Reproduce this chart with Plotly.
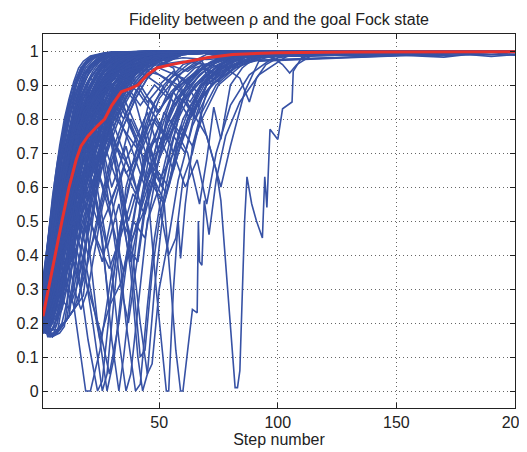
import plotly.graph_objects as go

# ---------------- data ----------------
# fast-converging trajectories (group 1) share a common step grid
FAST_STEPS = [1, 3, 5, 7, 9, 11, 13, 15, 17, 20, 23, 26, 30, 35, 40, 45, 50, 60, 80, 200]
FAST_VALUES = [
    [0.33, 0.44, 0.55, 0.64, 0.72, 0.78, 0.83, 0.90, 0.95, 0.975, 0.985, 0.99, 0.995, 0.997, 0.998, 0.998, 0.999, 0.999, 0.999, 0.999],
    [0.26, 0.36, 0.47, 0.58, 0.68, 0.74, 0.80, 0.85, 0.90, 0.95, 0.97, 0.98, 0.99, 0.993, 0.996, 0.998, 0.998, 0.999, 0.999, 0.999],
    [0.22, 0.33, 0.44, 0.55, 0.64, 0.72, 0.79, 0.84, 0.88, 0.93, 0.96, 0.975, 0.988, 0.993, 0.996, 0.997, 0.998, 0.999, 0.999, 0.999],
    [0.24, 0.31, 0.40, 0.50, 0.60, 0.68, 0.75, 0.81, 0.86, 0.91, 0.94, 0.97, 0.985, 0.99, 0.995, 0.997, 0.998, 0.999, 0.999, 0.999],
    [0.20, 0.27, 0.36, 0.46, 0.56, 0.65, 0.72, 0.78, 0.84, 0.89, 0.93, 0.96, 0.98, 0.99, 0.994, 0.996, 0.998, 0.999, 0.999, 0.999],
    [0.21, 0.25, 0.32, 0.42, 0.52, 0.60, 0.68, 0.75, 0.81, 0.87, 0.92, 0.95, 0.975, 0.988, 0.993, 0.996, 0.998, 0.999, 0.999, 0.999],
    [0.19, 0.22, 0.28, 0.36, 0.45, 0.55, 0.63, 0.70, 0.77, 0.84, 0.89, 0.93, 0.96, 0.98, 0.99, 0.995, 0.997, 0.999, 0.999, 0.999],
    [0.18, 0.20, 0.24, 0.31, 0.40, 0.50, 0.58, 0.66, 0.73, 0.81, 0.87, 0.91, 0.95, 0.975, 0.988, 0.994, 0.997, 0.998, 0.999, 0.999],
    [0.20, 0.18, 0.21, 0.27, 0.35, 0.44, 0.53, 0.61, 0.69, 0.77, 0.84, 0.89, 0.94, 0.97, 0.985, 0.992, 0.996, 0.998, 0.999, 0.999],
    [0.21, 0.16, 0.16, 0.20, 0.27, 0.36, 0.46, 0.56, 0.65, 0.75, 0.83, 0.88, 0.93, 0.965, 0.98, 0.99, 0.995, 0.998, 0.999, 0.999],
    [0.23, 0.30, 0.42, 0.50, 0.56, 0.66, 0.70, 0.78, 0.82, 0.88, 0.92, 0.95, 0.97, 0.985, 0.992, 0.996, 0.998, 0.999, 0.999, 0.999],
    [0.25, 0.35, 0.45, 0.53, 0.62, 0.66, 0.74, 0.78, 0.85, 0.88, 0.93, 0.95, 0.975, 0.99, 0.995, 0.997, 0.998, 0.999, 0.999, 0.999],
    [0.19, 0.26, 0.30, 0.38, 0.42, 0.50, 0.55, 0.63, 0.68, 0.76, 0.82, 0.87, 0.92, 0.96, 0.98, 0.99, 0.995, 0.998, 0.999, 0.999],
    [0.22, 0.28, 0.34, 0.38, 0.46, 0.50, 0.58, 0.62, 0.70, 0.74, 0.80, 0.86, 0.90, 0.94, 0.97, 0.985, 0.993, 0.997, 0.999, 0.999],
    [0.20, 0.24, 0.27, 0.33, 0.38, 0.45, 0.50, 0.57, 0.62, 0.70, 0.76, 0.82, 0.88, 0.93, 0.96, 0.98, 0.99, 0.996, 0.999, 0.999],
    [0.18, 0.21, 0.25, 0.28, 0.34, 0.38, 0.45, 0.50, 0.58, 0.64, 0.72, 0.78, 0.85, 0.91, 0.95, 0.975, 0.988, 0.996, 0.999, 0.999],
    [0.21, 0.26, 0.30, 0.27, 0.32, 0.40, 0.48, 0.52, 0.60, 0.68, 0.74, 0.80, 0.87, 0.92, 0.96, 0.98, 0.99, 0.997, 0.999, 0.999],
    [0.17, 0.19, 0.22, 0.26, 0.30, 0.35, 0.40, 0.46, 0.52, 0.60, 0.67, 0.74, 0.82, 0.89, 0.94, 0.97, 0.985, 0.995, 0.999, 0.999],
    [0.22, 0.30, 0.38, 0.44, 0.40, 0.36, 0.42, 0.50, 0.58, 0.66, 0.72, 0.80, 0.86, 0.92, 0.95, 0.975, 0.99, 0.997, 0.999, 0.999],
    [0.20, 0.26, 0.33, 0.40, 0.47, 0.42, 0.38, 0.45, 0.55, 0.62, 0.70, 0.78, 0.85, 0.90, 0.95, 0.97, 0.985, 0.995, 0.999, 0.999],
    [0.24, 0.32, 0.40, 0.48, 0.55, 0.60, 0.55, 0.50, 0.58, 0.68, 0.76, 0.83, 0.89, 0.94, 0.97, 0.985, 0.993, 0.997, 0.999, 0.999],
    [0.19, 0.23, 0.28, 0.35, 0.42, 0.48, 0.52, 0.46, 0.42, 0.50, 0.60, 0.70, 0.80, 0.88, 0.93, 0.96, 0.98, 0.995, 0.999, 0.999],
    [0.21, 0.28, 0.36, 0.45, 0.52, 0.58, 0.64, 0.68, 0.62, 0.56, 0.64, 0.74, 0.84, 0.90, 0.95, 0.975, 0.99, 0.997, 0.999, 0.999],
    [0.23, 0.31, 0.41, 0.52, 0.60, 0.66, 0.72, 0.76, 0.80, 0.74, 0.70, 0.78, 0.86, 0.92, 0.96, 0.98, 0.99, 0.997, 0.999, 0.999],
    [0.18, 0.22, 0.26, 0.32, 0.38, 0.44, 0.40, 0.34, 0.30, 0.38, 0.48, 0.58, 0.70, 0.80, 0.88, 0.93, 0.96, 0.99, 0.998, 0.999],
    [0.20, 0.25, 0.30, 0.36, 0.42, 0.46, 0.50, 0.54, 0.48, 0.40, 0.46, 0.56, 0.68, 0.78, 0.86, 0.92, 0.96, 0.99, 0.998, 0.999],
    [0.22, 0.29, 0.37, 0.46, 0.55, 0.63, 0.70, 0.76, 0.82, 0.86, 0.90, 0.86, 0.82, 0.88, 0.93, 0.96, 0.98, 0.995, 0.999, 0.999],
    [0.25, 0.33, 0.43, 0.53, 0.63, 0.71, 0.78, 0.84, 0.89, 0.93, 0.96, 0.98, 0.99, 0.995, 0.997, 0.998, 0.999, 0.999, 0.999, 0.999],
    [0.28, 0.38, 0.49, 0.60, 0.69, 0.76, 0.83, 0.88, 0.92, 0.95, 0.97, 0.985, 0.993, 0.996, 0.998, 0.998, 0.999, 0.999, 0.999, 0.999],
    [0.32, 0.44, 0.55, 0.65, 0.73, 0.80, 0.86, 0.91, 0.95, 0.97, 0.985, 0.992, 0.996, 0.998, 0.998, 0.999, 0.999, 0.999, 0.999, 0.999],
    [0.17, 0.18, 0.20, 0.23, 0.28, 0.34, 0.40, 0.47, 0.54, 0.63, 0.72, 0.80, 0.87, 0.93, 0.96, 0.98, 0.99, 0.997, 0.999, 0.999],
    [0.19, 0.17, 0.18, 0.22, 0.26, 0.31, 0.36, 0.42, 0.48, 0.56, 0.64, 0.72, 0.80, 0.87, 0.92, 0.955, 0.975, 0.993, 0.999, 0.999],
    [0.21, 0.27, 0.35, 0.43, 0.50, 0.56, 0.62, 0.67, 0.72, 0.78, 0.83, 0.88, 0.92, 0.95, 0.97, 0.985, 0.993, 0.998, 0.999, 0.999],
    [0.20, 0.24, 0.30, 0.37, 0.43, 0.49, 0.54, 0.60, 0.65, 0.72, 0.78, 0.84, 0.89, 0.94, 0.965, 0.98, 0.99, 0.997, 0.999, 0.999],
    [0.23, 0.29, 0.36, 0.40, 0.36, 0.30, 0.26, 0.30, 0.36, 0.46, 0.56, 0.66, 0.76, 0.85, 0.91, 0.95, 0.975, 0.993, 0.999, 0.999],
    [0.18, 0.21, 0.26, 0.33, 0.40, 0.38, 0.34, 0.28, 0.24, 0.30, 0.42, 0.54, 0.66, 0.78, 0.86, 0.92, 0.955, 0.99, 0.998, 0.999],
    [0.22, 0.27, 0.33, 0.40, 0.48, 0.56, 0.64, 0.71, 0.77, 0.83, 0.88, 0.92, 0.95, 0.975, 0.988, 0.994, 0.997, 0.999, 0.999, 0.999],
    [0.19, 0.24, 0.31, 0.39, 0.47, 0.55, 0.62, 0.68, 0.74, 0.80, 0.85, 0.90, 0.94, 0.97, 0.985, 0.992, 0.996, 0.999, 0.999, 0.999],
    [0.27, 0.36, 0.46, 0.56, 0.65, 0.72, 0.78, 0.83, 0.87, 0.91, 0.94, 0.965, 0.98, 0.99, 0.995, 0.997, 0.998, 0.999, 0.999, 0.999],
    [0.21, 0.25, 0.31, 0.38, 0.46, 0.54, 0.60, 0.66, 0.70, 0.76, 0.80, 0.86, 0.90, 0.935, 0.96, 0.98, 0.99, 0.997, 0.999, 0.999],
]

# fast-converging trajectories (group 2) on a second step grid
FAST2_STEPS = [1, 2, 4, 6, 8, 10, 12, 14, 16, 18, 21, 24, 27, 31, 36, 42, 50, 65, 90, 200]
FAST2_VALUES = [
    [0.30, 0.36, 0.50, 0.62, 0.72, 0.80, 0.86, 0.91, 0.95, 0.97, 0.985, 0.99, 0.995, 0.997, 0.998, 0.999, 0.999, 0.999, 0.999, 0.999],
    [0.28, 0.33, 0.45, 0.58, 0.66, 0.76, 0.82, 0.88, 0.92, 0.95, 0.975, 0.985, 0.99, 0.995, 0.997, 0.998, 0.999, 0.999, 0.999, 0.999],
    [0.25, 0.30, 0.40, 0.52, 0.60, 0.70, 0.76, 0.84, 0.88, 0.93, 0.96, 0.98, 0.99, 0.994, 0.997, 0.998, 0.999, 0.999, 0.999, 0.999],
    [0.22, 0.26, 0.36, 0.46, 0.56, 0.64, 0.73, 0.80, 0.86, 0.90, 0.95, 0.97, 0.985, 0.992, 0.996, 0.998, 0.999, 0.999, 0.999, 0.999],
    [0.20, 0.22, 0.30, 0.40, 0.50, 0.58, 0.67, 0.74, 0.80, 0.86, 0.92, 0.95, 0.975, 0.99, 0.995, 0.997, 0.999, 0.999, 0.999, 0.999],
    [0.19, 0.20, 0.26, 0.34, 0.44, 0.52, 0.60, 0.68, 0.76, 0.82, 0.89, 0.93, 0.96, 0.98, 0.99, 0.996, 0.998, 0.999, 0.999, 0.999],
    [0.18, 0.17, 0.20, 0.27, 0.36, 0.45, 0.54, 0.62, 0.70, 0.77, 0.85, 0.90, 0.94, 0.97, 0.985, 0.993, 0.997, 0.999, 0.999, 0.999],
    [0.21, 0.19, 0.17, 0.20, 0.26, 0.34, 0.43, 0.52, 0.60, 0.68, 0.78, 0.85, 0.90, 0.95, 0.975, 0.99, 0.996, 0.999, 0.999, 0.999],
    [0.24, 0.28, 0.38, 0.44, 0.52, 0.60, 0.66, 0.72, 0.80, 0.84, 0.90, 0.94, 0.965, 0.985, 0.993, 0.997, 0.999, 0.999, 0.999, 0.999],
    [0.23, 0.27, 0.33, 0.42, 0.48, 0.54, 0.62, 0.70, 0.74, 0.80, 0.86, 0.91, 0.95, 0.975, 0.99, 0.995, 0.998, 0.999, 0.999, 0.999],
    [0.20, 0.24, 0.30, 0.36, 0.44, 0.50, 0.56, 0.62, 0.68, 0.74, 0.82, 0.88, 0.92, 0.96, 0.98, 0.99, 0.996, 0.999, 0.999, 0.999],
    [0.19, 0.22, 0.27, 0.32, 0.38, 0.44, 0.50, 0.56, 0.62, 0.68, 0.76, 0.83, 0.88, 0.93, 0.965, 0.985, 0.993, 0.998, 0.999, 0.999],
    [0.22, 0.25, 0.32, 0.38, 0.35, 0.42, 0.50, 0.58, 0.66, 0.72, 0.80, 0.86, 0.91, 0.95, 0.975, 0.99, 0.996, 0.999, 0.999, 0.999],
    [0.20, 0.23, 0.30, 0.38, 0.45, 0.40, 0.46, 0.55, 0.62, 0.70, 0.78, 0.84, 0.90, 0.94, 0.97, 0.985, 0.995, 0.999, 0.999, 0.999],
    [0.26, 0.31, 0.42, 0.52, 0.60, 0.66, 0.62, 0.68, 0.76, 0.83, 0.89, 0.93, 0.96, 0.98, 0.99, 0.996, 0.998, 0.999, 0.999, 0.999],
    [0.21, 0.24, 0.31, 0.40, 0.48, 0.55, 0.60, 0.56, 0.62, 0.72, 0.80, 0.87, 0.92, 0.96, 0.98, 0.99, 0.996, 0.999, 0.999, 0.999],
    [0.18, 0.20, 0.24, 0.30, 0.36, 0.42, 0.48, 0.54, 0.50, 0.46, 0.56, 0.66, 0.76, 0.85, 0.92, 0.96, 0.985, 0.998, 0.999, 0.999],
    [0.20, 0.22, 0.28, 0.35, 0.42, 0.48, 0.44, 0.38, 0.34, 0.40, 0.50, 0.62, 0.72, 0.82, 0.90, 0.95, 0.98, 0.997, 0.999, 0.999],
    [0.23, 0.28, 0.37, 0.47, 0.56, 0.64, 0.71, 0.77, 0.74, 0.70, 0.78, 0.85, 0.90, 0.95, 0.975, 0.99, 0.996, 0.999, 0.999, 0.999],
    [0.22, 0.26, 0.35, 0.45, 0.54, 0.62, 0.70, 0.76, 0.82, 0.86, 0.82, 0.86, 0.92, 0.96, 0.98, 0.99, 0.996, 0.999, 0.999, 0.999],
    [0.17, 0.18, 0.21, 0.25, 0.30, 0.36, 0.42, 0.49, 0.56, 0.63, 0.72, 0.80, 0.87, 0.93, 0.965, 0.985, 0.995, 0.999, 0.999, 0.999],
    [0.19, 0.18, 0.19, 0.23, 0.28, 0.33, 0.39, 0.45, 0.52, 0.58, 0.67, 0.75, 0.82, 0.89, 0.94, 0.97, 0.99, 0.998, 0.999, 0.999],
    [0.21, 0.23, 0.28, 0.33, 0.30, 0.26, 0.24, 0.30, 0.38, 0.46, 0.56, 0.66, 0.75, 0.84, 0.91, 0.95, 0.98, 0.997, 0.999, 0.999],
    [0.24, 0.29, 0.39, 0.49, 0.58, 0.66, 0.73, 0.79, 0.84, 0.88, 0.92, 0.90, 0.88, 0.93, 0.96, 0.98, 0.993, 0.999, 0.999, 0.999],
    [0.27, 0.33, 0.45, 0.56, 0.65, 0.73, 0.80, 0.85, 0.89, 0.92, 0.955, 0.975, 0.985, 0.993, 0.997, 0.998, 0.999, 0.999, 0.999, 0.999],
    [0.29, 0.35, 0.48, 0.60, 0.70, 0.78, 0.84, 0.89, 0.93, 0.955, 0.975, 0.988, 0.994, 0.997, 0.998, 0.999, 0.999, 0.999, 0.999, 0.999],
    [0.20, 0.25, 0.33, 0.41, 0.49, 0.57, 0.64, 0.70, 0.76, 0.81, 0.87, 0.92, 0.95, 0.975, 0.988, 0.995, 0.998, 0.999, 0.999, 0.999],
    [0.22, 0.27, 0.34, 0.42, 0.50, 0.58, 0.65, 0.72, 0.78, 0.83, 0.89, 0.93, 0.96, 0.98, 0.99, 0.996, 0.998, 0.999, 0.999, 0.999],
    [0.18, 0.21, 0.26, 0.33, 0.40, 0.47, 0.54, 0.61, 0.67, 0.73, 0.80, 0.86, 0.91, 0.95, 0.975, 0.99, 0.996, 0.999, 0.999, 0.999],
    [0.25, 0.30, 0.38, 0.47, 0.55, 0.62, 0.68, 0.74, 0.79, 0.84, 0.89, 0.93, 0.96, 0.98, 0.99, 0.996, 0.998, 0.999, 0.999, 0.999],
]

# fast-converging trajectories (group 3) on a third step grid
FAST3_STEPS = [1, 2, 3, 5, 7, 9, 11, 13, 15, 17, 19, 22, 25, 28, 32, 38, 45, 55, 75, 200]
FAST3_VALUES = [
    [0.31, 0.38, 0.45, 0.57, 0.67, 0.75, 0.82, 0.88, 0.92, 0.95, 0.97, 0.985, 0.99, 0.995, 0.997, 0.998, 0.999, 0.999, 0.999, 0.999],
    [0.27, 0.32, 0.38, 0.50, 0.61, 0.70, 0.77, 0.83, 0.88, 0.92, 0.95, 0.975, 0.988, 0.994, 0.997, 0.998, 0.999, 0.999, 0.999, 0.999],
    [0.24, 0.28, 0.33, 0.44, 0.55, 0.64, 0.72, 0.79, 0.85, 0.89, 0.93, 0.96, 0.98, 0.99, 0.995, 0.998, 0.999, 0.999, 0.999, 0.999],
    [0.22, 0.25, 0.29, 0.38, 0.48, 0.58, 0.66, 0.74, 0.80, 0.86, 0.90, 0.94, 0.97, 0.985, 0.993, 0.997, 0.999, 0.999, 0.999, 0.999],
    [0.20, 0.22, 0.25, 0.33, 0.42, 0.51, 0.60, 0.68, 0.75, 0.81, 0.86, 0.91, 0.95, 0.97, 0.985, 0.995, 0.998, 0.999, 0.999, 0.999],
    [0.19, 0.20, 0.22, 0.28, 0.36, 0.45, 0.54, 0.62, 0.70, 0.76, 0.82, 0.88, 0.92, 0.95, 0.975, 0.99, 0.996, 0.999, 0.999, 0.999],
    [0.21, 0.19, 0.19, 0.23, 0.30, 0.38, 0.47, 0.56, 0.64, 0.71, 0.78, 0.85, 0.90, 0.94, 0.97, 0.985, 0.995, 0.999, 0.999, 0.999],
    [0.18, 0.17, 0.17, 0.20, 0.25, 0.32, 0.40, 0.49, 0.57, 0.65, 0.72, 0.80, 0.86, 0.91, 0.95, 0.98, 0.993, 0.998, 0.999, 0.999],
    [0.23, 0.27, 0.31, 0.40, 0.47, 0.55, 0.61, 0.69, 0.74, 0.80, 0.84, 0.89, 0.93, 0.96, 0.98, 0.992, 0.997, 0.999, 0.999, 0.999],
    [0.25, 0.29, 0.35, 0.46, 0.56, 0.62, 0.70, 0.75, 0.82, 0.86, 0.90, 0.93, 0.96, 0.98, 0.99, 0.996, 0.998, 0.999, 0.999, 0.999],
    [0.20, 0.23, 0.27, 0.34, 0.40, 0.47, 0.53, 0.60, 0.66, 0.72, 0.78, 0.84, 0.89, 0.93, 0.96, 0.98, 0.993, 0.998, 0.999, 0.999],
    [0.22, 0.26, 0.30, 0.37, 0.44, 0.52, 0.59, 0.66, 0.72, 0.78, 0.83, 0.88, 0.92, 0.95, 0.975, 0.99, 0.996, 0.999, 0.999, 0.999],
    [0.19, 0.21, 0.24, 0.30, 0.37, 0.44, 0.51, 0.58, 0.64, 0.70, 0.76, 0.82, 0.87, 0.92, 0.955, 0.98, 0.992, 0.998, 0.999, 0.999],
    [0.26, 0.31, 0.37, 0.48, 0.58, 0.66, 0.73, 0.79, 0.84, 0.88, 0.92, 0.95, 0.97, 0.985, 0.993, 0.997, 0.999, 0.999, 0.999, 0.999],
    [0.21, 0.24, 0.28, 0.36, 0.44, 0.50, 0.47, 0.52, 0.60, 0.68, 0.75, 0.82, 0.88, 0.93, 0.96, 0.985, 0.995, 0.999, 0.999, 0.999],
    [0.23, 0.27, 0.32, 0.41, 0.50, 0.57, 0.63, 0.60, 0.65, 0.73, 0.80, 0.87, 0.92, 0.95, 0.975, 0.99, 0.997, 0.999, 0.999, 0.999],
    [0.18, 0.20, 0.23, 0.29, 0.35, 0.41, 0.47, 0.53, 0.59, 0.66, 0.73, 0.81, 0.87, 0.92, 0.96, 0.985, 0.995, 0.999, 0.999, 0.999],
    [0.24, 0.28, 0.34, 0.44, 0.53, 0.61, 0.68, 0.74, 0.80, 0.85, 0.89, 0.93, 0.96, 0.98, 0.99, 0.996, 0.998, 0.999, 0.999, 0.999],
    [0.20, 0.22, 0.26, 0.32, 0.39, 0.46, 0.52, 0.57, 0.54, 0.58, 0.66, 0.75, 0.83, 0.90, 0.95, 0.98, 0.994, 0.999, 0.999, 0.999],
    [0.29, 0.35, 0.42, 0.54, 0.64, 0.72, 0.79, 0.85, 0.90, 0.93, 0.96, 0.98, 0.99, 0.995, 0.997, 0.998, 0.999, 0.999, 0.999, 0.999],
]

# somewhat slower converging trajectories (group 4) on a fourth step grid
FAST4_STEPS = [1, 4, 8, 12, 16, 20, 24, 28, 32, 36, 40, 45, 50, 60, 80, 200]
FAST4_VALUES = [
    [0.20, 0.26, 0.36, 0.48, 0.58, 0.68, 0.76, 0.83, 0.88, 0.92, 0.95, 0.97, 0.985, 0.995, 0.999, 0.999],
    [0.21, 0.24, 0.32, 0.42, 0.52, 0.62, 0.72, 0.80, 0.86, 0.90, 0.94, 0.965, 0.98, 0.993, 0.999, 0.999],
    [0.19, 0.22, 0.30, 0.40, 0.48, 0.58, 0.66, 0.74, 0.82, 0.88, 0.92, 0.95, 0.975, 0.99, 0.998, 0.999],
    [0.22, 0.28, 0.40, 0.50, 0.56, 0.62, 0.70, 0.78, 0.84, 0.89, 0.93, 0.96, 0.98, 0.994, 0.999, 0.999],
    [0.18, 0.20, 0.26, 0.34, 0.44, 0.54, 0.64, 0.72, 0.80, 0.86, 0.91, 0.95, 0.97, 0.99, 0.998, 0.999],
    [0.23, 0.30, 0.42, 0.52, 0.60, 0.66, 0.74, 0.80, 0.86, 0.90, 0.935, 0.96, 0.98, 0.993, 0.999, 0.999],
    [0.20, 0.25, 0.34, 0.45, 0.54, 0.60, 0.68, 0.76, 0.81, 0.87, 0.90, 0.94, 0.97, 0.99, 0.998, 0.999],
    [0.21, 0.27, 0.38, 0.50, 0.60, 0.70, 0.78, 0.84, 0.89, 0.93, 0.96, 0.975, 0.988, 0.996, 0.999, 0.999],
    [0.19, 0.23, 0.31, 0.41, 0.50, 0.56, 0.62, 0.70, 0.78, 0.85, 0.90, 0.94, 0.97, 0.99, 0.998, 0.999],
    [0.22, 0.26, 0.35, 0.46, 0.56, 0.64, 0.72, 0.79, 0.85, 0.90, 0.94, 0.965, 0.98, 0.994, 0.999, 0.999],
]

# late-starting trajectories that stay low before rising: (steps, values)
LATE = [
    ([1, 3, 5, 7, 9, 12, 15, 18, 22, 27, 33, 40, 50, 200],
     [0.20, 0.17, 0.16, 0.17, 0.25, 0.42, 0.60, 0.74, 0.85, 0.93, 0.97, 0.99, 0.997, 0.999]),
    ([1, 3, 5, 8, 10, 12, 15, 18, 22, 27, 33, 40, 50, 200],
     [0.21, 0.18, 0.16, 0.17, 0.19, 0.30, 0.48, 0.63, 0.78, 0.88, 0.95, 0.98, 0.995, 0.999]),
    ([1, 4, 7, 10, 12, 14, 17, 20, 24, 29, 35, 42, 52, 200],
     [0.19, 0.17, 0.17, 0.20, 0.22, 0.33, 0.50, 0.64, 0.78, 0.88, 0.95, 0.98, 0.995, 0.999]),
    ([1, 4, 8, 12, 14, 16, 19, 22, 26, 31, 37, 44, 55, 200],
     [0.22, 0.18, 0.18, 0.22, 0.24, 0.36, 0.52, 0.66, 0.80, 0.90, 0.95, 0.98, 0.995, 0.999]),
    ([1, 5, 9, 13, 16, 18, 21, 24, 28, 33, 39, 46, 56, 200],
     [0.20, 0.16, 0.19, 0.23, 0.26, 0.38, 0.55, 0.68, 0.80, 0.90, 0.95, 0.98, 0.995, 0.999]),
    ([1, 5, 10, 15, 18, 20, 23, 26, 30, 35, 41, 48, 58, 200],
     [0.21, 0.16, 0.20, 0.25, 0.28, 0.40, 0.56, 0.70, 0.82, 0.90, 0.95, 0.98, 0.995, 0.999]),
    ([1, 3, 6, 9, 11, 13, 16, 19, 23, 28, 34, 41, 50, 200],
     [0.23, 0.20, 0.20, 0.24, 0.30, 0.40, 0.55, 0.68, 0.80, 0.89, 0.95, 0.98, 0.995, 0.999]),
    ([1, 2, 4, 6, 8, 10, 13, 16, 20, 25, 31, 38, 48, 200],
     [0.25, 0.24, 0.22, 0.25, 0.33, 0.45, 0.60, 0.73, 0.85, 0.93, 0.97, 0.99, 0.997, 0.999]),
    ([1, 4, 7, 11, 13, 15, 18, 21, 25, 30, 36, 43, 53, 200],
     [0.18, 0.16, 0.18, 0.21, 0.30, 0.40, 0.56, 0.70, 0.82, 0.91, 0.96, 0.985, 0.996, 0.999]),
    ([1, 5, 9, 14, 17, 19, 22, 25, 29, 34, 40, 47, 57, 200],
     [0.19, 0.16, 0.19, 0.24, 0.30, 0.42, 0.60, 0.72, 0.84, 0.92, 0.96, 0.985, 0.996, 0.999]),
    ([1, 3, 5, 7, 9, 11, 14, 17, 21, 26, 32, 39, 48, 200],
     [0.22, 0.19, 0.18, 0.20, 0.28, 0.38, 0.54, 0.67, 0.80, 0.90, 0.95, 0.98, 0.996, 0.999]),
    ([1, 4, 6, 9, 11, 13, 16, 19, 23, 28, 34, 41, 50, 200],
     [0.20, 0.17, 0.17, 0.20, 0.26, 0.36, 0.52, 0.66, 0.80, 0.90, 0.95, 0.98, 0.996, 0.999]),
]

# slower / dipping trajectories: (steps, values)
SLOW = [
    ([1, 5, 10, 14, 19, 21, 25, 30, 34, 38, 44, 50, 58, 70, 200],
     [0.22, 0.30, 0.35, 0.25, 0.0, 0.0, 0.12, 0.35, 0.50, 0.62, 0.75, 0.86, 0.93, 0.98, 0.999]),
    ([1, 4, 8, 12, 16, 20, 24, 26, 30, 34, 38, 42, 48, 55, 65, 80, 200],
     [0.20, 0.28, 0.40, 0.48, 0.35, 0.15, 0.0, 0.03, 0.30, 0.50, 0.45, 0.62, 0.80, 0.88, 0.95, 0.985, 0.999]),
    ([1, 6, 10, 14, 18, 22, 26, 28, 32, 36, 40, 46, 52, 60, 75, 200],
     [0.18, 0.30, 0.45, 0.50, 0.38, 0.20, 0.0, 0.05, 0.35, 0.60, 0.70, 0.82, 0.90, 0.96, 0.99, 0.999]),
    ([1, 5, 10, 15, 20, 24, 28, 31, 35, 40, 44, 50, 56, 64, 75, 200],
     [0.20, 0.35, 0.55, 0.60, 0.45, 0.20, 0.0, 0.10, 0.35, 0.55, 0.70, 0.75, 0.88, 0.93, 0.98, 0.999]),
    ([1, 6, 12, 18, 22, 26, 30, 33, 35, 38, 42, 46, 50, 56, 62, 70, 85, 200],
     [0.19, 0.35, 0.60, 0.72, 0.60, 0.45, 0.15, 0.0, 0.10, 0.30, 0.55, 0.70, 0.78, 0.88, 0.92, 0.96, 0.99, 0.999]),
    ([1, 8, 14, 20, 25, 30, 33, 36, 38, 41, 45, 50, 55, 60, 70, 90, 200],
     [0.21, 0.45, 0.70, 0.75, 0.55, 0.35, 0.15, 0.0, 0.05, 0.25, 0.50, 0.60, 0.75, 0.85, 0.93, 0.985, 0.999]),
    ([1, 7, 12, 18, 24, 28, 32, 36, 40, 42, 45, 48, 52, 58, 65, 75, 90, 200],
     [0.20, 0.40, 0.62, 0.78, 0.80, 0.62, 0.50, 0.20, 0.0, 0.02, 0.25, 0.45, 0.62, 0.80, 0.90, 0.96, 0.99, 0.999]),
    ([1, 6, 12, 18, 24, 30, 34, 38, 41, 43, 45, 48, 52, 57, 62, 70, 80, 95, 200],
     [0.22, 0.40, 0.65, 0.80, 0.85, 0.75, 0.55, 0.35, 0.10, 0.0, 0.05, 0.30, 0.55, 0.70, 0.80, 0.90, 0.95, 0.99, 0.999]),
    ([1, 8, 15, 22, 28, 33, 38, 42, 45, 47, 50, 54, 58, 64, 72, 85, 200],
     [0.20, 0.50, 0.75, 0.85, 0.80, 0.60, 0.45, 0.20, 0.05, 0.08, 0.30, 0.45, 0.62, 0.78, 0.90, 0.97, 0.999]),
    ([1, 8, 15, 22, 30, 36, 42, 45, 49, 53, 54, 56, 58, 59, 61, 64, 68, 75, 85, 100, 200],
     [0.22, 0.45, 0.72, 0.86, 0.90, 0.82, 0.72, 0.60, 0.28, 0.0, 0.0, 0.30, 0.50, 0.39, 0.55, 0.72, 0.80, 0.90, 0.96, 0.99, 0.999]),
    ([1, 10, 18, 26, 34, 42, 48, 52, 55, 57, 59, 60, 62, 64, 66, 66.5, 67, 68, 69, 71, 74, 78, 84, 92, 105, 200],
     [0.20, 0.55, 0.80, 0.90, 0.88, 0.75, 0.62, 0.56, 0.30, 0.12, 0.0, 0.0, 0.12, 0.24, 0.23, 0.50, 0.38, 0.37, 0.56, 0.46, 0.62, 0.75, 0.85, 0.93, 0.99, 0.999]),
    ([1, 10, 20, 30, 40, 50, 58, 64, 70, 74, 76, 79, 82, 83, 84, 86, 87, 89, 91, 93.5, 94.5, 95.4, 96.7, 100, 102, 106, 106.5, 110, 118, 125, 135, 145, 160, 170, 180, 190, 200],
     [0.21, 0.60, 0.85, 0.93, 0.95, 0.93, 0.90, 0.82, 0.75, 0.65, 0.56, 0.28, 0.01, 0.01, 0.06, 0.50, 0.63, 0.55, 0.50, 0.45, 0.63, 0.54, 0.77, 0.74, 0.83, 0.85, 0.94, 0.98, 0.99, 0.99, 0.985, 0.99, 0.985, 0.982, 0.99, 0.984, 0.99]),
    ([1, 6, 12, 18, 24, 30, 36, 42, 48, 54, 60, 66, 72, 78, 85, 200],
     [0.24, 0.45, 0.70, 0.85, 0.78, 0.60, 0.72, 0.55, 0.68, 0.80, 0.75, 0.88, 0.93, 0.97, 0.99, 0.999]),
    ([1, 5, 10, 16, 22, 28, 33, 38, 44, 50, 56, 62, 70, 80, 200],
     [0.19, 0.30, 0.50, 0.68, 0.60, 0.42, 0.55, 0.38, 0.60, 0.72, 0.85, 0.90, 0.96, 0.99, 0.999]),
    ([1, 7, 14, 20, 26, 32, 38, 44, 50, 56, 62, 68, 75, 85, 200],
     [0.20, 0.42, 0.68, 0.80, 0.85, 0.72, 0.65, 0.78, 0.62, 0.70, 0.82, 0.90, 0.95, 0.985, 0.999]),
    ([1, 5, 9, 13, 17, 21, 25, 29, 33, 37, 42, 48, 55, 62, 70, 200],
     [0.22, 0.35, 0.50, 0.60, 0.45, 0.30, 0.15, 0.25, 0.45, 0.60, 0.72, 0.85, 0.92, 0.96, 0.99, 0.999]),
    ([1, 8, 15, 22, 28, 34, 38, 42, 44, 47, 50, 55, 60, 68, 78, 200],
     [0.20, 0.48, 0.72, 0.85, 0.80, 0.62, 0.40, 0.10, 0.12, 0.35, 0.50, 0.68, 0.80, 0.90, 0.97, 0.999]),
    ([1, 6, 12, 18, 24, 30, 35, 40, 46, 52, 58, 64, 72, 82, 95, 200],
     [0.21, 0.40, 0.62, 0.75, 0.65, 0.50, 0.35, 0.48, 0.62, 0.55, 0.70, 0.82, 0.90, 0.95, 0.99, 0.999]),
    ([1, 7, 13, 19, 25, 30, 34, 37, 40, 44, 48, 53, 58, 65, 75, 200],
     [0.20, 0.42, 0.66, 0.80, 0.72, 0.50, 0.30, 0.20, 0.35, 0.55, 0.62, 0.78, 0.86, 0.93, 0.98, 0.999]),
    ([1, 5, 10, 15, 20, 26, 32, 38, 44, 50, 56, 62, 68, 76, 88, 200],
     [0.23, 0.36, 0.55, 0.70, 0.78, 0.70, 0.82, 0.72, 0.60, 0.75, 0.65, 0.80, 0.90, 0.95, 0.99, 0.999]),
    ([1, 8, 16, 24, 32, 40, 46, 50, 54, 57, 60, 64, 68, 74, 82, 95, 200],
     [0.20, 0.50, 0.78, 0.88, 0.92, 0.85, 0.70, 0.55, 0.40, 0.45, 0.62, 0.70, 0.82, 0.90, 0.95, 0.985, 0.999]),
    ([1, 9, 17, 25, 33, 41, 49, 55, 61, 66, 70, 74, 80, 88, 100, 200],
     [0.21, 0.55, 0.80, 0.90, 0.93, 0.88, 0.80, 0.72, 0.60, 0.68, 0.55, 0.70, 0.84, 0.93, 0.99, 0.999]),
    ([1, 6, 11, 16, 21, 26, 31, 36, 41, 46, 51, 56, 61, 66, 72, 80, 92, 200],
     [0.19, 0.32, 0.50, 0.62, 0.50, 0.38, 0.55, 0.68, 0.58, 0.72, 0.60, 0.75, 0.70, 0.85, 0.90, 0.95, 0.99, 0.999]),
    ([1, 7, 14, 21, 28, 35, 42, 49, 56, 63, 70, 77, 85, 95, 200],
     [0.22, 0.45, 0.70, 0.82, 0.88, 0.80, 0.90, 0.82, 0.88, 0.80, 0.90, 0.94, 0.97, 0.99, 0.999]),
    ([1, 10, 20, 30, 40, 50, 60, 66, 72, 76, 80, 86, 92, 200],
     [0.20, 0.55, 0.82, 0.90, 0.94, 0.95, 0.92, 0.85, 0.70, 0.60, 0.72, 0.88, 0.97, 0.999]),
    ([1, 10, 20, 30, 40, 50, 60, 70, 78, 84, 88, 91, 95, 100, 110, 130, 150, 165, 185, 200],
     [0.21, 0.58, 0.84, 0.92, 0.95, 0.96, 0.97, 0.96, 0.95, 0.92, 0.85, 0.92, 0.96, 0.98, 0.99, 0.988, 0.99, 0.986, 0.99, 0.988]),
    ([1, 10, 20, 30, 40, 50, 60, 70, 80, 90, 98, 102, 105, 108, 115, 140, 160, 175, 190, 200],
     [0.20, 0.60, 0.86, 0.94, 0.96, 0.97, 0.98, 0.975, 0.98, 0.985, 0.98, 0.96, 0.935, 0.96, 0.99, 0.992, 0.988, 0.993, 0.99, 0.995]),
    ([1, 8, 16, 24, 32, 40, 48, 56, 62, 67, 70, 73, 76, 80, 85, 92, 200],
     [0.20, 0.50, 0.76, 0.86, 0.80, 0.72, 0.65, 0.78, 0.70, 0.55, 0.68, 0.835, 0.74, 0.90, 0.95, 0.99, 0.999]),
    ([1, 6, 12, 18, 24, 29, 34, 39, 44, 49, 54, 59, 64, 70, 78, 88, 200],
     [0.20, 0.36, 0.58, 0.70, 0.55, 0.25, 0.32, 0.50, 0.45, 0.65, 0.60, 0.78, 0.72, 0.88, 0.94, 0.99, 0.999]),
    ([1, 5, 10, 15, 20, 25, 29, 33, 37, 41, 45, 50, 56, 63, 72, 85, 200],
     [0.18, 0.22, 0.35, 0.42, 0.30, 0.18, 0.05, 0.20, 0.42, 0.38, 0.58, 0.72, 0.84, 0.90, 0.96, 0.99, 0.999]),
    # medium, jagged
    ([1, 5, 10, 15, 20, 25, 30, 34, 38, 42, 46, 50, 55, 60, 66, 75, 200],
     [0.20, 0.30, 0.48, 0.62, 0.70, 0.66, 0.75, 0.68, 0.80, 0.74, 0.86, 0.82, 0.90, 0.94, 0.97, 0.99, 0.999]),
    ([1, 6, 12, 18, 24, 29, 33, 37, 41, 45, 49, 53, 58, 64, 72, 85, 200],
     [0.21, 0.38, 0.60, 0.72, 0.65, 0.55, 0.62, 0.50, 0.60, 0.72, 0.66, 0.80, 0.88, 0.93, 0.97, 0.99, 0.999]),
    ([1, 7, 13, 19, 25, 31, 36, 40, 44, 48, 52, 56, 61, 67, 75, 88, 200],
     [0.19, 0.40, 0.62, 0.76, 0.84, 0.78, 0.68, 0.74, 0.62, 0.70, 0.82, 0.78, 0.88, 0.93, 0.97, 0.99, 0.999]),
    ([1, 5, 10, 15, 20, 25, 30, 35, 40, 45, 50, 55, 60, 65, 72, 82, 200],
     [0.22, 0.34, 0.52, 0.64, 0.58, 0.48, 0.56, 0.66, 0.58, 0.70, 0.78, 0.72, 0.85, 0.90, 0.95, 0.985, 0.999]),
    ([1, 8, 15, 22, 29, 35, 40, 45, 50, 55, 60, 65, 70, 76, 84, 95, 200],
     [0.20, 0.50, 0.76, 0.88, 0.90, 0.82, 0.74, 0.82, 0.70, 0.78, 0.86, 0.80, 0.90, 0.94, 0.97, 0.99, 0.999]),
    ([1, 6, 11, 17, 23, 28, 33, 38, 43, 48, 53, 58, 63, 69, 76, 86, 200],
     [0.23, 0.40, 0.58, 0.72, 0.80, 0.70, 0.60, 0.44, 0.52, 0.64, 0.58, 0.72, 0.82, 0.90, 0.95, 0.985, 0.999]),
    ([1, 7, 14, 21, 27, 33, 39, 45, 51, 57, 63, 69, 75, 82, 90, 200],
     [0.20, 0.44, 0.70, 0.84, 0.90, 0.86, 0.92, 0.85, 0.90, 0.84, 0.92, 0.95, 0.93, 0.97, 0.99, 0.999]),
    ([1, 5, 9, 14, 19, 24, 29, 34, 39, 44, 49, 54, 60, 67, 76, 200],
     [0.21, 0.32, 0.46, 0.60, 0.54, 0.44, 0.36, 0.46, 0.58, 0.52, 0.66, 0.78, 0.86, 0.93, 0.98, 0.999]),
    ([1, 8, 16, 24, 30, 36, 42, 48, 54, 60, 66, 72, 78, 86, 200],
     [0.22, 0.50, 0.78, 0.90, 0.94, 0.90, 0.84, 0.90, 0.86, 0.92, 0.88, 0.94, 0.97, 0.99, 0.999]),
    ([1, 6, 12, 18, 24, 30, 36, 42, 48, 54, 60, 66, 74, 84, 200],
     [0.20, 0.38, 0.60, 0.74, 0.68, 0.76, 0.64, 0.70, 0.80, 0.74, 0.86, 0.90, 0.95, 0.99, 0.999]),
    ([1, 9, 18, 27, 36, 44, 50, 56, 62, 68, 74, 80, 88, 100, 200],
     [0.21, 0.55, 0.82, 0.92, 0.95, 0.93, 0.90, 0.94, 0.90, 0.95, 0.93, 0.97, 0.985, 0.995, 0.999]),
    ([1, 7, 14, 21, 28, 35, 41, 47, 53, 59, 65, 71, 78, 88, 200],
     [0.20, 0.45, 0.72, 0.85, 0.78, 0.84, 0.72, 0.80, 0.74, 0.86, 0.82, 0.92, 0.96, 0.99, 0.999]),
    # late small dips near the top
    ([1, 10, 20, 30, 40, 50, 56, 60, 64, 68, 72, 76, 80, 200],
     [0.20, 0.60, 0.85, 0.93, 0.96, 0.97, 0.95, 0.88, 0.93, 0.96, 0.90, 0.96, 0.99, 0.999]),
    ([1, 9, 18, 27, 36, 45, 54, 62, 68, 72, 76, 82, 90, 200],
     [0.22, 0.55, 0.82, 0.91, 0.95, 0.97, 0.96, 0.94, 0.97, 0.92, 0.95, 0.98, 0.995, 0.999]),
    ([1, 8, 16, 24, 32, 40, 48, 56, 63, 70, 75, 79, 86, 200],
     [0.21, 0.50, 0.78, 0.88, 0.93, 0.90, 0.94, 0.90, 0.85, 0.93, 0.91, 0.96, 0.99, 0.999]),
]

# mean fidelity (red)
MEAN_STEPS = [1, 3, 5, 7, 9, 12, 15, 17, 20, 24, 27, 30, 32, 34, 38, 41, 45, 49, 55, 62, 70, 81, 100, 130, 200]
MEAN_VALUES = [0.22, 0.29, 0.36, 0.44, 0.50, 0.60, 0.68, 0.72, 0.75, 0.78, 0.80, 0.84, 0.86, 0.88, 0.89, 0.90, 0.93, 0.95, 0.96, 0.97, 0.98, 0.99, 0.995, 0.997, 0.998]

Y_TICKS = [0, 0.1, 0.2, 0.3, 0.4, 0.5, 0.6, 0.7, 0.8, 0.9, 1]
Y_TICK_TEXT = ["0", "0.1", "0.2", "0.3", "0.4", "0.5", "0.6", "0.7", "0.8", "0.9", "1"]
X_TICKS = [50, 100, 150, 200]

TITLE = "Fidelity between ρ and the goal Fock state"
X_LABEL = "Step number"

# ---------------- figure ----------------
BLUE = "#3752a5"
RED = "#e8312d"
FONT = "Liberation Sans, Arial, sans-serif"
LW = 1.6

# the page body adds an 8 px offset; plot area is placed so it lands where the reference has it
W, H = 527, 444
ML, MR, MT, MB = 35, 20, 26, 44

fig = go.Figure()
for steps, group in ((FAST_STEPS, FAST_VALUES), (FAST2_STEPS, FAST2_VALUES),
                     (FAST3_STEPS, FAST3_VALUES), (FAST4_STEPS, FAST4_VALUES)):
    for vals in group:
        fig.add_trace(go.Scatter(x=steps, y=vals, mode="lines",
                                 line=dict(color=BLUE, width=LW), showlegend=False,
                                 hoverinfo="skip"))
for xs, ys in LATE + SLOW:
    fig.add_trace(go.Scatter(x=xs, y=ys, mode="lines",
                             line=dict(color=BLUE, width=LW), showlegend=False,
                             hoverinfo="skip"))
fig.add_trace(go.Scatter(x=MEAN_STEPS, y=MEAN_VALUES, mode="lines",
                         line=dict(color=RED, width=3), showlegend=False))

axis_common = dict(
    showline=True, linecolor="#222", linewidth=1.2, mirror="ticks",
    ticks="inside", ticklen=5, tickcolor="#222",
    showgrid=True, gridcolor="#666", gridwidth=1, griddash="1px,3px",
    zeroline=False, automargin=False,
    tickfont=dict(family=FONT, size=16, color="#222"),
)

fig.update_layout(
    width=W, height=H,
    margin=dict(l=ML, r=MR, t=MT, b=MB),
    paper_bgcolor="white", plot_bgcolor="white",
    font=dict(family=FONT, size=16, color="#222"),
    title=dict(text=TITLE, x=(ML + (W - MR)) / 2 / W, xanchor="center",
               y=1 - 11 / H, yanchor="middle",
               font=dict(family=FONT, size=16, color="#222")),
    xaxis=dict(range=[1, 200], tickvals=X_TICKS, ticklabeloverflow="allow",
               title=dict(text=X_LABEL, standoff=0, font=dict(family=FONT, size=16, color="#222")),
               **axis_common),
    yaxis=dict(range=[-0.05, 1.05], tickvals=Y_TICKS, ticktext=Y_TICK_TEXT, **axis_common),
)

fig.write_html("out.html")
